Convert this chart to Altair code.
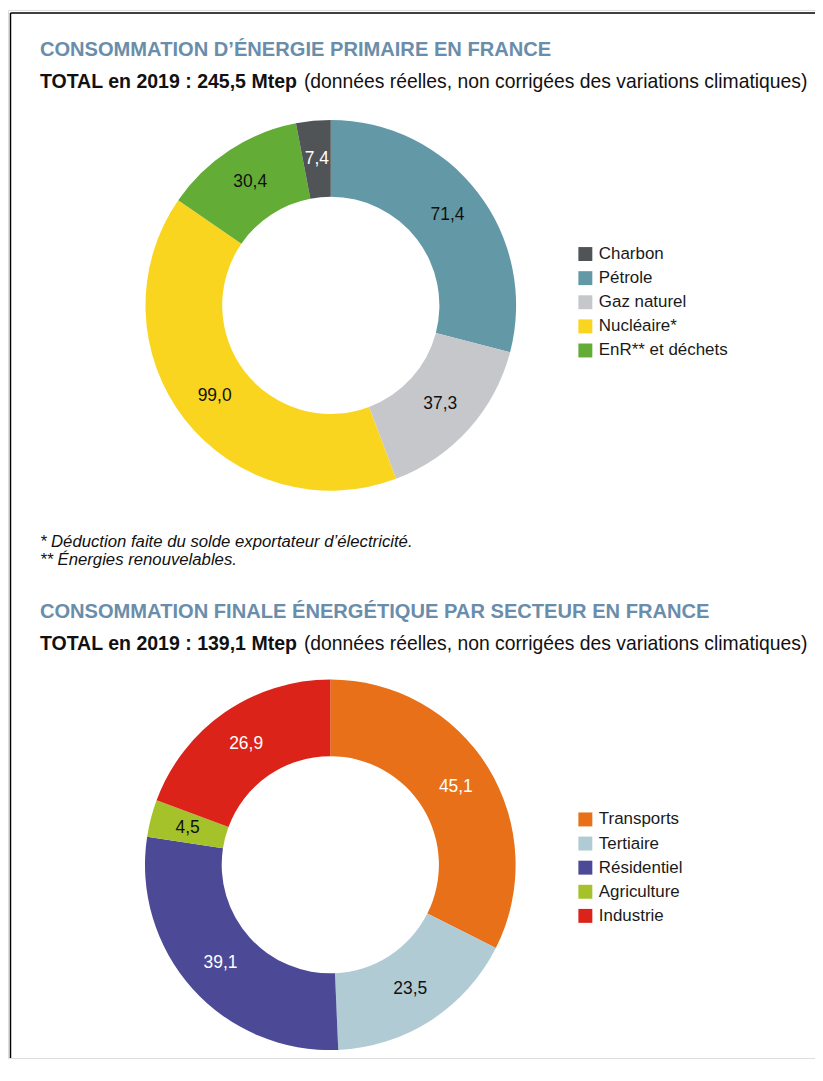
import altair as alt
import pandas as pd

FONT = "Liberation Sans"
TITLE_COLOR = "#6a8dab"

# ---- Data: primary energy consumption (clockwise from 12 o'clock)
primary_cats = ["Pétrole", "Gaz naturel", "Nucléaire*", "EnR** et déchets", "Charbon"]
primary_vals = [71.4, 37.3, 99.0, 30.4, 7.4]
primary_labels = ["71,4", "37,3", "99,0", "30,4", "7,4"]
primary_label_colors = ["#111111", "#111111", "#111111", "#111111", "#ffffff"]
primary_legend_order = ["Charbon", "Pétrole", "Gaz naturel", "Nucléaire*", "EnR** et déchets"]
primary_colors = ["#505456", "#6399a7", "#c6c7cb", "#fad51f", "#63ad37"]

# ---- Data: final energy consumption by sector (clockwise from 12 o'clock)
final_cats = ["Transports", "Tertiaire", "Résidentiel", "Agriculture", "Industrie"]
final_vals = [45.1, 23.5, 39.1, 4.5, 26.9]
final_labels = ["45,1", "23,5", "39,1", "4,5", "26,9"]
final_label_colors = ["#ffffff", "#111111", "#ffffff", "#111111", "#ffffff"]
final_legend_order = ["Transports", "Tertiaire", "Résidentiel", "Agriculture", "Industrie"]
final_colors = ["#e87019", "#b1cbd4", "#4c4a96", "#a5c22b", "#dc231a"]

title1 = "CONSOMMATION D’ÉNERGIE PRIMAIRE EN FRANCE"
total1 = "TOTAL en 2019 : 245,5 Mtep"
title2 = "CONSOMMATION FINALE ÉNERGÉTIQUE PAR SECTEUR EN FRANCE"
total2 = "TOTAL en 2019 : 139,1 Mtep"
subtitle = "(données réelles, non corrigées des variations climatiques)"
footnotes = ["* Déduction faite du solde exportateur d’électricité.",
             "** Énergies renouvelables."]


def make_df(cats, vals, labels, tcols):
    return pd.DataFrame({
        "cat": cats,
        "value": vals,
        "label": labels,
        "tc": tcols,
        "ord": list(range(len(cats))),
    })


def donut(df, domain, colors, cx, cy, lx, ly):
    base = alt.Chart(df).encode(
        theta=alt.Theta("value:Q", stack=True),
        order=alt.Order("ord:Q", sort="ascending"),
    )
    arc = base.mark_arc(outerRadius=186, innerRadius=109).encode(
        x=alt.value(cx),
        y=alt.value(cy),
        color=alt.Color(
            "cat:N",
            scale=alt.Scale(domain=domain, range=colors),
            legend=alt.Legend(
                title=None,
                orient="none",
                legendX=lx,
                legendY=ly,
                direction="vertical",
                symbolType="square",
                symbolSize=196,
                symbolStrokeWidth=0,
                symbolOpacity=1,
                labelFont=FONT,
                labelFontSize=17,
                labelColor="#1a1a1a",
                labelOffset=5,
                rowPadding=6.2,
                padding=0,
            ),
        ),
    )
    text = base.mark_text(radius=148, font=FONT, fontSize=17.5).encode(
        x=alt.value(cx),
        y=alt.value(cy),
        text="label:N",
        fill=alt.Fill("tc:N", scale=None),
    )
    return alt.layer(arc, text)


def txt(s, x, y, size, weight="normal", color="#111111", style="normal"):
    return alt.Chart(pd.DataFrame({"t": [s]})).mark_text(
        align="left", baseline="alphabetic", font=FONT, fontSize=size,
        fontWeight=weight, fontStyle=style, color=color,
    ).encode(text="t:N", x=alt.value(x), y=alt.value(y))


W, H = 810, 1052

frame_top = alt.Chart(pd.DataFrame({"a": [0]})).mark_rule(
    color="#000000", strokeWidth=1.5
).encode(x=alt.value(2.5), x2=alt.value(W), y=alt.value(3))
frame_left = alt.Chart(pd.DataFrame({"a": [0]})).mark_rule(
    color="#000000", strokeWidth=1.5
).encode(x=alt.value(2.5), y=alt.value(3), y2=alt.value(H))

d1 = donut(make_df(primary_cats, primary_vals, primary_labels, primary_label_colors),
           primary_legend_order, primary_colors, 324, 296.5, 571, 236.5)
d2 = donut(make_df(final_cats, final_vals, final_labels, final_label_colors),
           final_legend_order, final_colors, 323.5, 858, 571, 804)

layers = [
    frame_top, frame_left,
    txt(title1, 32, 46, 20.2, "bold", TITLE_COLOR),
    txt(total1, 32, 78, 19.6, "bold"),
    txt(subtitle, 297, 78, 19.4),
    txt(footnotes[0], 32, 539, 16.8, style="italic"),
    txt(footnotes[1], 32, 557, 16.8, style="italic"),
    txt(title2, 32, 610, 20.2, "bold", TITLE_COLOR),
    txt(total2, 32, 642, 19.6, "bold"),
    txt(subtitle, 297, 642, 19.4),
    d1, d2,
]

chart = alt.layer(*layers).resolve_scale(
    theta="independent", color="independent", fill="independent"
).properties(
    width=W, height=H, autosize=alt.AutoSizeParams(type="none"), padding=0
).configure_view(stroke="transparent", strokeWidth=0).configure(background="white")

chart.save("out.html", embed_options={"renderer": "svg", "actions": False})
